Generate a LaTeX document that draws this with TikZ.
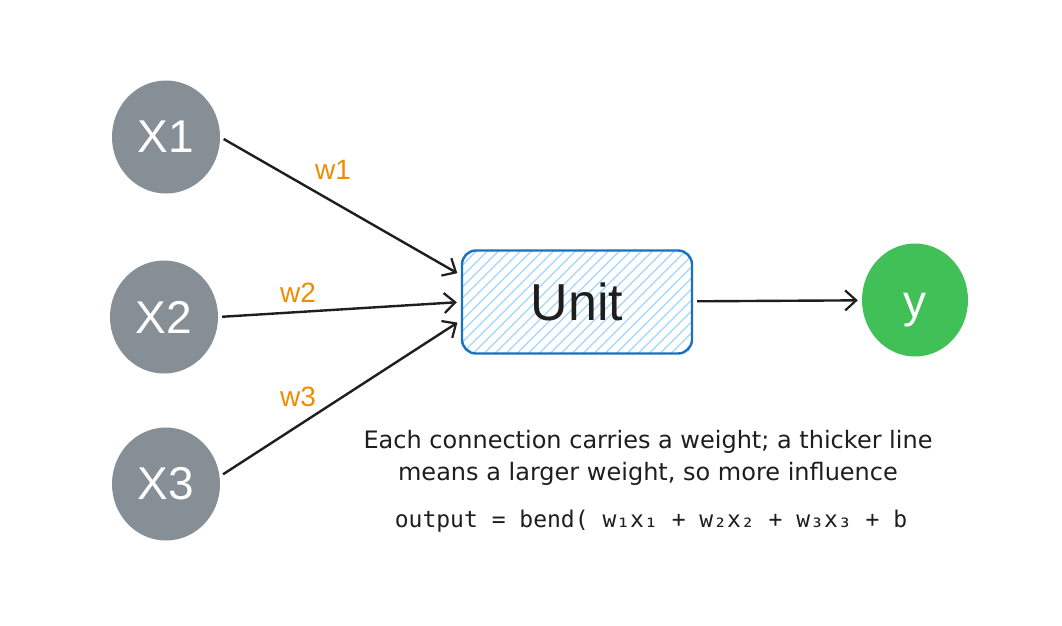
\documentclass[tikz,border=0pt]{standalone}
\usepackage{fontspec}
\setmainfont{Liberation Sans}
\newfontfamily\notefont{DejaVu Sans}
\newfontfamily\codefont{DejaVu Sans Mono}
\usetikzlibrary{arrows.meta,shapes.geometric}

\definecolor{inputgray}{HTML}{868E96}
\definecolor{outgreen}{HTML}{40C057}
\definecolor{unitblue}{HTML}{1971C2}
\definecolor{hatchblue}{HTML}{A5D8FF}
\definecolor{weightorange}{HTML}{F08C00}
\definecolor{ink}{HTML}{1E1E1E}

\tikzset{
  neuron/.style={ellipse, minimum width=108pt, minimum height=113pt, inner sep=0pt,
    text=white, font=\fontsize{46}{46}\selectfont},
  inputnode/.style={neuron, fill=inputgray},
  outputnode/.style={neuron, fill=outgreen, minimum width=106pt,
    text height=35pt, text depth=0pt},
  unitbox/.style={rectangle, rounded corners=14pt, minimum width=230pt, minimum height=103pt,
    draw=unitblue, line width=2.4pt, text=ink, font=\fontsize{52}{52}\selectfont,
    path picture={
      \foreach \i in {-10,...,21}
        \draw[hatchblue, line width=1.2pt]
          ([xshift=\i*11pt]path picture bounding box.south west) -- ++(110pt,110pt);
    }},
  conn/.style={-{Straight Barb[length=11pt,width=20pt,line width=2.2pt]}, line width=2.4pt,
    draw=ink, shorten <=4pt, shorten >=4pt},
  wlabel/.style={text=weightorange, font=\fontsize{28}{28}\selectfont},
}

\begin{document}
\begin{tikzpicture}[x=1pt,y=-1pt]
  \useasboundingbox[fill=white] (0,0) rectangle (1062,625);

  % inputs
  \node[inputnode] (x1) at (166,137) {X1};
  \node[inputnode] (x2) at (164,317) {X2};
  \node[inputnode] (x3) at (166,484) {X3};

  % unit and output
  \node[unitbox] (unit) at (577,302) {Unit};
  \node[outputnode] (y) at (915,300) {y};

  % connections
  \draw[conn] (x1.east) -- (unit.167);
  \draw[conn] (x2.east) -- (unit.west);
  \draw[conn] (x3.8) -- (unit.189);
  \draw[conn] (unit) -- (y);

  % weights
  \node[wlabel] (w1) at (333,170) {w1};
  \node[wlabel] (w2) at (298,293) {w2};
  \node[wlabel] (w3) at (298,397) {w3};

  % notes
  \node[text=ink, align=center, font=\notefont\fontsize{24}{32}\selectfont] (note) at (648,458)
    {Each connection carries a weight; a thicker line\\means a larger weight, so more influence};
  \node[text=ink, font=\codefont\fontsize{23}{26}\selectfont] (formula) at (651,521)
    {output = bend( w₁x₁ + w₂x₂ + w₃x₃ + b};
\end{tikzpicture}
\end{document}
